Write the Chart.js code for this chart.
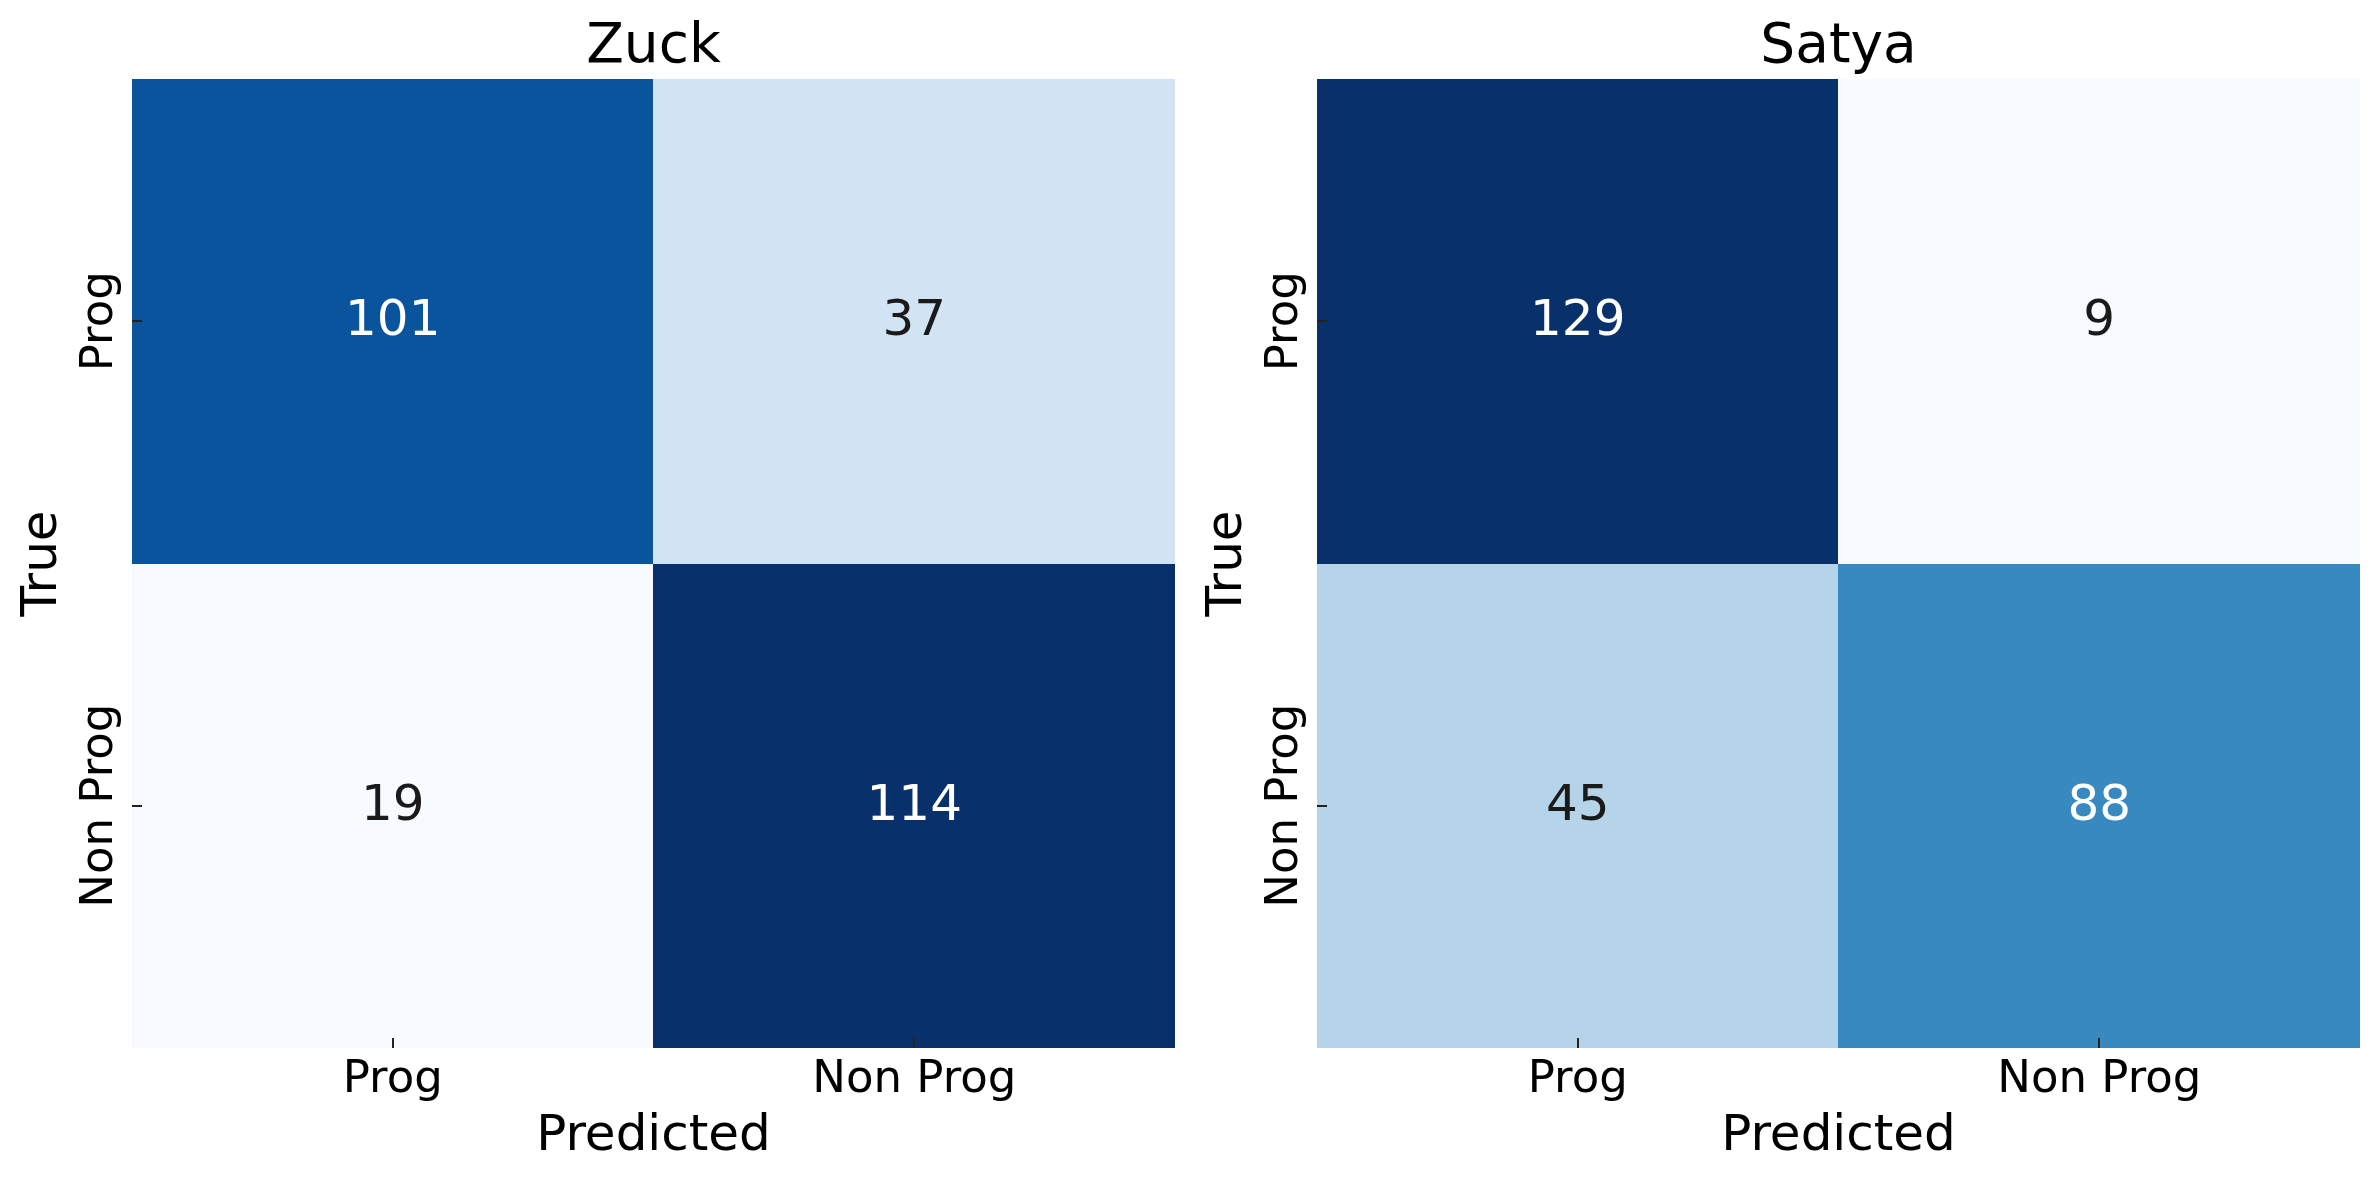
<!DOCTYPE html>
<html>
<head>
<meta charset="utf-8">
<title>Confusion matrices</title>
<script src="https://cdn.jsdelivr.net/npm/chart.js@4"></script>
<style>
  html, body { margin: 0; padding: 0; background: #fff; }
  body { width: 2379px; height: 1180px; position: relative; overflow: hidden; }
  .panel { position: absolute; top: 0; width: 1194px; height: 1180px; }
  #panel-zuck { left: 0; }
  #panel-satya { left: 1185px; }
</style>
</head>
<body>
<div class="panel" id="panel-zuck"><canvas id="chart-zuck"></canvas></div>
<div class="panel" id="panel-satya"><canvas id="chart-satya"></canvas></div>
<script>
// Labels (predicted on x, true on y)
const xLabels = ['Prog', 'Non Prog'];
const yLabels = ['Prog', 'Non Prog'];

// Confusion matrix counts, rows = true class
const zuckCounts = [
  [101, 37],
  [19, 114]
];
const satyaCounts = [
  [129, 9],
  [45, 88]
];

const FONT = '"DejaVu Sans", sans-serif';

// matplotlib "Blues" colormap anchors
const bluesStops = ['#f7fbff', '#deebf7', '#c6dbef', '#9ecae1', '#6baed6', '#4292c6', '#2171b5', '#08519c', '#08306b'];

function hexToRgb(hex) {
  const n = parseInt(hex.slice(1), 16);
  return [(n >> 16) & 255, (n >> 8) & 255, n & 255];
}

// Interpolate a colour on the Blues map, t in [0, 1]
function blues(t) {
  t = Math.max(0, Math.min(1, t));
  const pos = t * (bluesStops.length - 1);
  const i = Math.min(Math.floor(pos), bluesStops.length - 2);
  const f = pos - i;
  const a = hexToRgb(bluesStops[i]);
  const b = hexToRgb(bluesStops[i + 1]);
  const c = a.map((v, k) => Math.round(v + (b[k] - v) * f));
  return `rgb(${c[0]},${c[1]},${c[2]})`;
}

// Same rule as seaborn: dark text on light cells, white on dark cells
function textColorFor(rgbStr) {
  const rgb = rgbStr.match(/\d+/g).map(Number).map(v => {
    v = v / 255;
    return v <= 0.03928 ? v / 12.92 : Math.pow((v + 0.055) / 1.055, 2.4);
  });
  const lum = 0.2126 * rgb[0] + 0.7152 * rgb[1] + 0.0722 * rgb[2];
  return lum > 0.408 ? '#1a1a1a' : '#ffffff';
}

// Draws annotations, ticks, tick labels, axis titles and the panel title
const labelPlugin = {
  id: 'cmLabels',
  afterDatasetsDraw(chart, args, opts) {
    const ctx = chart.ctx;
    const xs = chart.scales.x;
    const ys = chart.scales.y;
    const area = chart.chartArea;
    ctx.save();

    // cell values
    ctx.font = '50px ' + FONT;
    ctx.textAlign = 'center';
    ctx.textBaseline = 'alphabetic';
    chart.data.datasets.forEach((ds, r) => {
      ds.counts.forEach((v, c) => {
        ctx.fillStyle = textColorFor(ds.backgroundColor[c]);
        ctx.fillText(String(v), xs.getPixelForValue(c), ys.getPixelForValue(r + 0.5) + 14);
      });
    });

    // tick marks
    ctx.strokeStyle = '#222';
    ctx.lineWidth = 2;
    xLabels.forEach((_, c) => {
      const px = Math.round(xs.getPixelForValue(c));
      ctx.beginPath();
      ctx.moveTo(px, area.bottom - 10);
      ctx.lineTo(px, area.bottom);
      ctx.stroke();
    });
    yLabels.forEach((_, r) => {
      const py = Math.round(ys.getPixelForValue(r + 0.5));
      ctx.beginPath();
      ctx.moveTo(area.left, py);
      ctx.lineTo(area.left + 10, py);
      ctx.stroke();
    });

    ctx.fillStyle = '#000';

    // x tick labels
    ctx.font = '45px ' + FONT;
    xLabels.forEach((lab, c) => {
      ctx.fillText(lab, xs.getPixelForValue(c), area.bottom + 44);
    });

    // y tick labels, rotated
    yLabels.forEach((lab, r) => {
      ctx.save();
      ctx.translate(area.left - 20, ys.getPixelForValue(r + 0.5));
      ctx.rotate(-Math.PI / 2);
      ctx.fillText(lab, 0, 0);
      ctx.restore();
    });

    // axis titles
    const midX = (area.left + area.right) / 2;
    const midY = (area.top + area.bottom) / 2;
    ctx.font = '50px ' + FONT;
    ctx.fillText('Predicted', midX, area.bottom + 102);
    ctx.save();
    ctx.translate(area.left - 76, midY);
    ctx.rotate(-Math.PI / 2);
    ctx.fillText('True', 0, 0);
    ctx.restore();

    // panel title
    ctx.font = '55px ' + FONT;
    ctx.fillText(opts.title, midX, area.top - 17);

    ctx.restore();
  }
};

function buildChart(canvasId, title, counts) {
  const flat = counts.flat();
  const vmin = Math.min(...flat);
  const vmax = Math.max(...flat);

  // one floating-bar dataset per true-class row
  const datasets = counts.map((row, r) => ({
    label: yLabels[r],
    counts: row,
    data: row.map(() => [r, r + 1]),
    backgroundColor: row.map(v => blues((v - vmin) / (vmax - vmin))),
    borderWidth: 0,
    inflateAmount: 0.5,
    barPercentage: 1,
    categoryPercentage: 1,
    grouped: false
  }));

  return new Chart(document.getElementById(canvasId), {
    type: 'bar',
    data: { labels: xLabels, datasets: datasets },
    options: {
      responsive: true,
      maintainAspectRatio: false,
      animation: false,
      layout: { padding: { left: 132, top: 79, right: 19, bottom: 132 } },
      scales: {
        x: { display: false, offset: true },
        y: { display: false, min: 0, max: 2, reverse: true }
      },
      plugins: {
        legend: { display: false },
        tooltip: { enabled: false },
        cmLabels: { title: title }
      }
    },
    plugins: [labelPlugin]
  });
}

buildChart('chart-zuck', 'Zuck', zuckCounts);
buildChart('chart-satya', 'Satya', satyaCounts);
</script>
</body>
</html>
